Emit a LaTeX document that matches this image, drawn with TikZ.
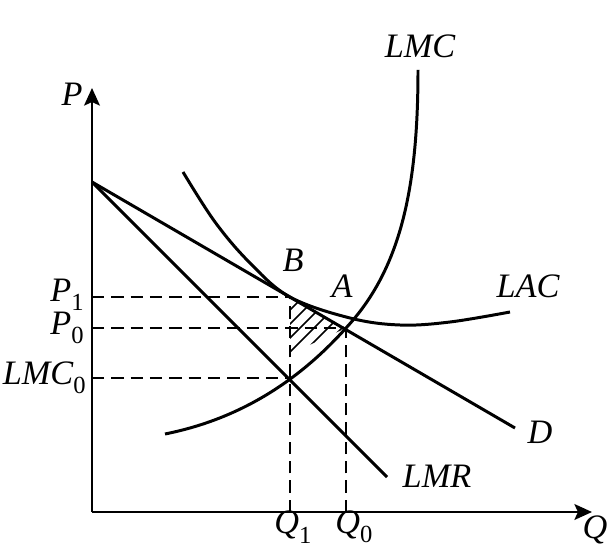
\documentclass[tikz,border=0pt]{standalone}
\usepackage{fontspec}
\setmainfont{Liberation Serif}
\usetikzlibrary{arrows.meta}
\newcommand\sublbl[2]{\textit{#1}\raisebox{-0.6ex}{\upshape\fontsize{14}{14}\selectfont #2}}
\begin{document}
\begin{tikzpicture}[x=0.02cm,y=-0.02cm,
  curve/.style={line width=1.7pt},
  axisline/.style={line width=1.3pt,-{Stealth[length=10pt,width=9pt,inset=2pt]}},
  guide/.style={line width=0.8pt,dash pattern=on 7pt off 4pt},
  hatchline/.style={line width=0.9pt},
  lbl/.style={font=\fontsize{19.5}{22}\selectfont\itshape, inner sep=0pt}]
\useasboundingbox (0,0) rectangle (608,550);
% key points
\coordinate (O) at (92,512);
\coordinate (Ptop) at (92,88);
\coordinate (Qend) at (592,512);
\coordinate (K) at (92,182);
\coordinate (Dend) at (515,428);
\coordinate (LMRend) at (387,477);
\coordinate (B) at (290,297);
\coordinate (A) at (346,328);
\coordinate (C0) at (290,378);
\coordinate (HB) at (290,354);
\coordinate (yP1) at (92,297);
\coordinate (yP0) at (92,328);
\coordinate (yC0) at (92,378);
\coordinate (xQ1) at (290,512);
\coordinate (xQ0) at (346,512);
\coordinate (LMCstart) at (165,434);
\coordinate (LMCtop) at (418,70);
% hatched area
\begin{scope}
  \clip (B) -- (A) -- (HB) -- cycle;
  \foreach \c in {600,614,628,642,656,670}
    \draw[hatchline] (\c-400,400) -- (\c-250,250);
\end{scope}
% guides
\draw[guide] (yP1) -- (B);
\draw[guide] (yP0) -- (A);
\draw[guide] (yC0) -- (C0);
\draw[guide] (xQ1) -- (B);
\draw[guide] (xQ0) -- (A);
% axes
\draw[axisline] (O) -- (Ptop);
\draw[axisline] (O) -- (Qend);
% lines
\draw[curve] (K) -- (Dend);
\draw[curve] (K) -- (LMRend);
% curves
\draw[curve] plot[smooth, tension=0.6] coordinates {(183,172) (215,222) (250,263) (290,297) (350,318) (400,325) (450,322) (510,312)};
\draw[curve] (LMCstart) .. controls (235,420) and (295,385) .. (A)
                        .. controls (400,270) and (418,190) .. (LMCtop);
% labels
\node[lbl] (lP) at (72,94) {P};
\node[lbl] (lQ) at (595,530) {Q};
\node[lbl] (lLMC) at (420,46) {LMC};
\node[lbl] (lB) at (293,260) {B};
\node[lbl] (lA) at (342,286) {A};
\node[lbl] (lLAC) at (528,286) {LAC};
\node[lbl] (lD) at (540,432) {D};
\node[lbl] (lLMR) at (437,476) {LMR};
\node[lbl, anchor=east] (lP1) at (84,295) {\sublbl{P}{1}};
\node[lbl, anchor=east] (lP0) at (84,328) {\sublbl{P}{0}};
\node[lbl, anchor=east] (lC0) at (86,378) {\sublbl{LMC}{0}};
\node[lbl] (lQ1) at (293,527) {\sublbl{Q}{1}};
\node[lbl] (lQ0) at (354,527) {\sublbl{Q}{0}};
\end{tikzpicture}
\end{document}
